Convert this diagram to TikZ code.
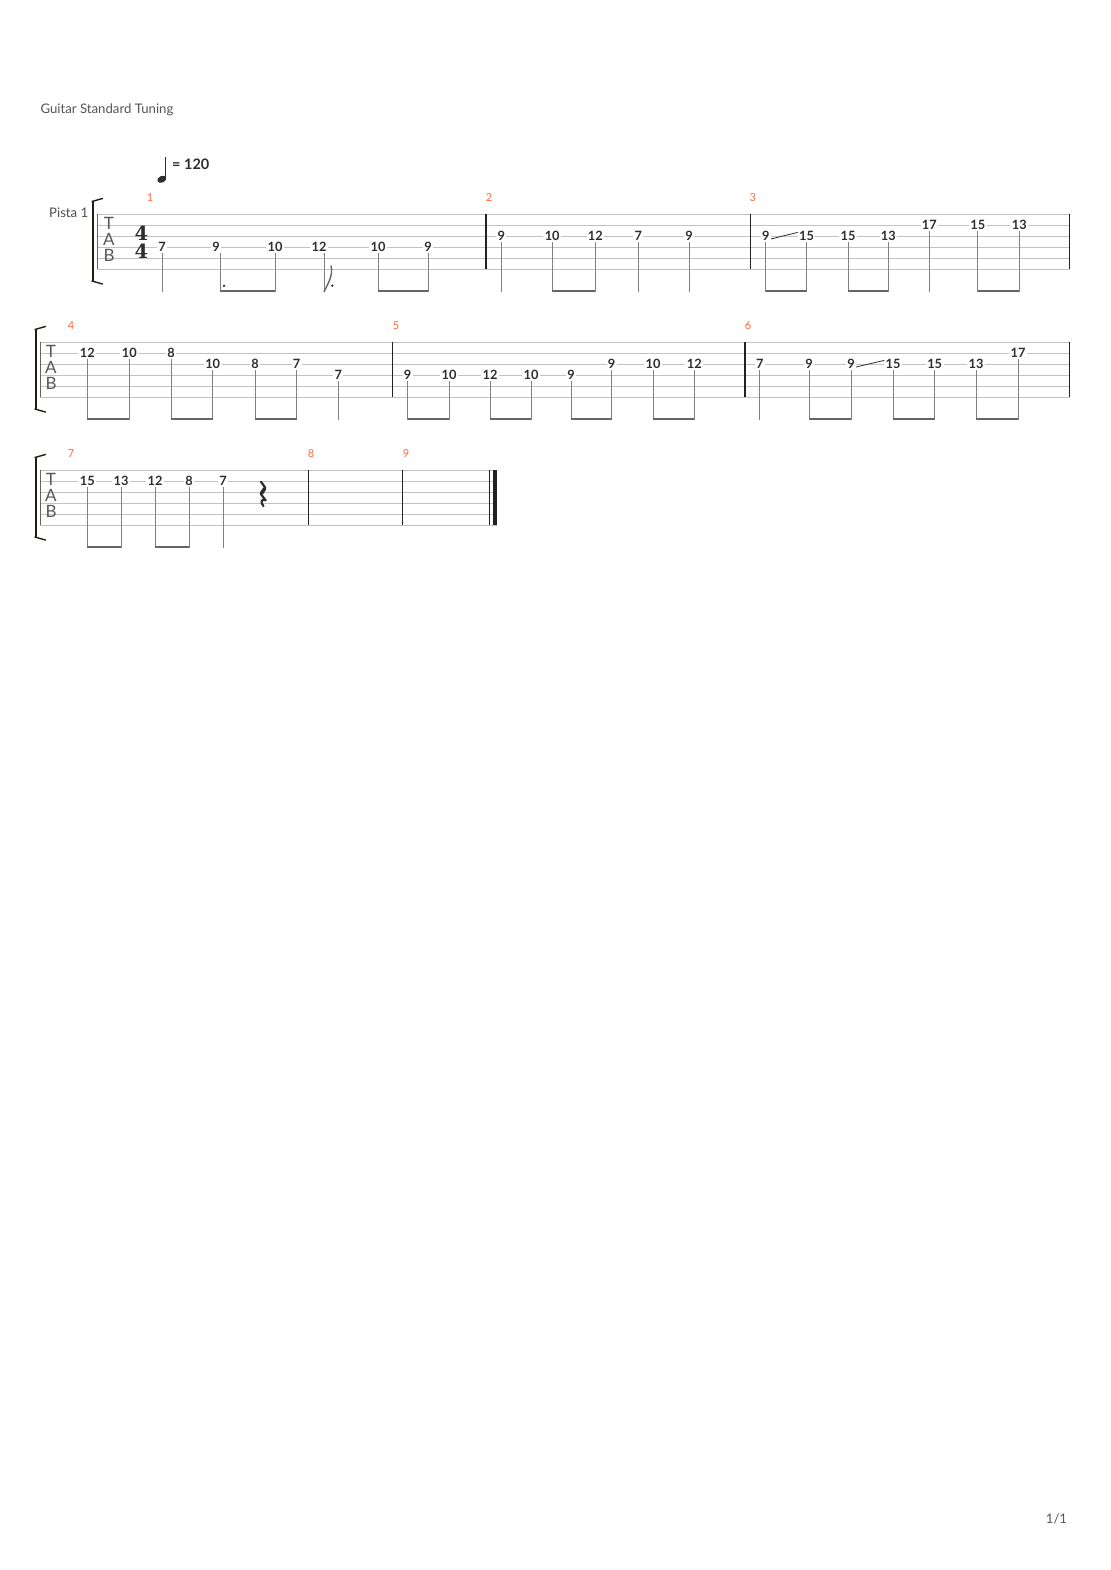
\documentclass[tikz,border=0pt]{standalone}
\usepackage{fontspec}
\newfontfamily\lato{Lato}
\newfontfamily\tsfont{DejaVu Serif}
\definecolor{staffgray}{HTML}{C2C2C2}
\definecolor{txtgray}{HTML}{2E2E2E}
\definecolor{stemgray}{HTML}{808080}
\definecolor{beamgray}{HTML}{666666}
\definecolor{mnumorange}{HTML}{FF6A3D}
\definecolor{titlegray}{HTML}{555555}
\definecolor{bargray}{HTML}{222222}
\definecolor{brackcol}{HTML}{1E1E14}
\newcommand\fretfont{\lato\bfseries\fontsize{12.8}{13}\selectfont}
\tikzset{
  fret/.style={font=\fretfont, text=txtgray, fill=white, inner xsep=1.4pt, inner ysep=0pt, outer sep=0pt},
  stemline/.style={draw=stemgray, line width=1pt, shorten <=1.5pt},
  beamline/.style={draw=beamgray, line width=2.6pt},
  staffline/.style={draw=staffgray, line width=0.9pt},
  barl/.style={draw=bargray, line width=1.2pt},
  slideline/.style={draw=txtgray, line width=0.8pt},
  mnum/.style={font=\lato\fontsize{11}{12}\selectfont, text=mnumorange, inner sep=0pt},
  tabl/.style={font=\lato\fontsize{17}{17}\selectfont, text=txtgray!80, inner sep=0pt},
  tsig/.style={font=\tsfont\bfseries\fontsize{19.5}{19.5}\selectfont, text=txtgray, inner sep=0pt},
  plain/.style={font=\lato\fontsize{13.2}{14}\selectfont, text=titlegray, inner sep=0pt},
}
% note: name, x, y, fret, stem bottom
\newcommand\nt[5]{%
  \node[fret] (#1) at (#2,#3) {#4};
  \coordinate (#1s) at (#2,#5);
  \draw[stemline] (#1.south) -- (#1s);}
% note with offset stem: name, text x, stem x, y, fret, stem bottom
\newcommand\ntx[6]{%
  \node[fret] (#1) at (#2,#4) {#5};
  \coordinate (#1s) at (#3,#6);
  \draw[stemline] (#1s |- #1.south) -- (#1s);}
\newcommand\bm[2]{\draw[beamline] ([yshift=1.2pt]#1s) -- ([yshift=1.2pt]#2s);}
% staff: top y, left x, right x
\newcommand\staff[3]{\foreach \k in {0,...,5}{\draw[staffline] (#2,#1+11*\k) -- (#3,#1+11*\k);}}
% bracket: x, top y, bottom y
\newcommand\brk[3]{%
  \draw[brackcol, line width=2.6pt] (#1,#2) -- (#1,#3);
  \draw[brackcol, line width=1.4pt] (#1-1.2,#2+0.6) .. controls (#1+3,#2-0.6) .. (#1+10,#2-2.6);
  \draw[brackcol, line width=1.4pt] (#1-1.2,#3-0.6) .. controls (#1+3,#3+0.6) .. (#1+10,#3+2.6);}
% tab clef: x, staff top
\newcommand\tabclef[3]{%
  \node[tabl] (#3T) at (#1,#2+9.3) {T};
  \node[tabl] (#3A) at (#1,#2+25.5) {A};
  \node[tabl] (#3B) at (#1,#2+41.5) {B};}
\begin{document}
\begin{tikzpicture}[x=1pt,y=-1pt]
\useasboundingbox (0,0) rectangle (1110,1570);
\fill[white] (0,0) rectangle (1110,1570);

% header
\node[plain, anchor=west] (title) at (40.3,110.3) {Guitar Standard Tuning};
\fill[txtgray, rotate around={25:(161.8,179.3)}] (161.8,179.3) ellipse [x radius=4.7, y radius=3.3];
\draw[txtgray, line width=1pt] (165.9,178.3) -- (165.9,157);
\node[font=\lato\bfseries\fontsize{14.5}{15}\selectfont, text=txtgray, anchor=west, inner sep=0pt] (tempo) at (172,164.5) {= 120};
\node[plain, anchor=east, text=txtgray!85] (pista) at (88.5,213) {Pista 1};
\node[plain, text=titlegray] (pagenum) at (1056.5,1519) {1/1};

% ===== system 1 =====
\staff{214}{97}{1070}
\brk{92.8}{201}{281.5}
\draw[draw=bargray!70, line width=0.9pt] (97.5,214) -- (97.5,269);
\tabclef{109}{214}{t1}
\node[tsig] (ts1) at (141.5,233.2) {4};
\node[tsig] (ts2) at (141.5,251.3) {4};
\draw[barl] (486,214) -- (486,269);
\draw[barl] (750.3,214) -- (750.3,269);
\draw[barl] (1069.5,214) -- (1069.5,269);
\node[mnum] (m1) at (150,198) {1};
\node[mnum] (m2) at (489,198) {2};
\node[mnum] (m3) at (752.7,198) {3};

\nt{a1}{162}{247}{7}{292}
\ntx{a2}{216}{220}{247}{9}{292}
\nt{a3}{275}{247}{10}{292}
\ntx{a4}{319}{324}{247}{12}{292}
\nt{a5}{378}{247}{10}{292}
\nt{a6}{428}{247}{9}{292}
\bm{a2}{a3}\bm{a5}{a6}
\fill[txtgray] (224,285.8) circle (1.3);
\fill[txtgray] (332.3,285.7) circle (1.3);
\draw[stemgray!80!black, line width=1.4pt] (a4s) .. controls (327.5,284) and (333.5,276) .. (331,265.5);

\nt{b1}{501.3}{236}{9}{292}
\nt{b2}{552.2}{236}{10}{292}
\nt{b3}{595.4}{236}{12}{292}
\nt{b4}{638.3}{236}{7}{292}
\nt{b5}{689.1}{236}{9}{292}
\bm{b2}{b3}

\nt{c1}{765.7}{236}{9}{292}
\nt{c2}{806.5}{236}{15}{292}
\nt{c3}{848}{236}{15}{292}
\nt{c4}{888.4}{236}{13}{292}
\nt{c5}{929.4}{225}{17}{292}
\nt{c6}{977.8}{225}{15}{292}
\nt{c7}{1019.3}{225}{13}{292}
\bm{c1}{c2}\bm{c3}{c4}\bm{c6}{c7}
\draw[slideline] ([yshift=-3pt]c1.east) -- ([yshift=3.6pt]c2.west);

% ===== system 2 =====
\staff{342}{40}{1070}
\brk{35.8}{329}{409.5}
\draw[draw=bargray!70, line width=0.9pt] (40.5,342) -- (40.5,397);
\tabclef{51}{342}{t2}
\draw[barl] (392.3,342) -- (392.3,397);
\draw[barl] (745,342) -- (745,397);
\draw[barl] (1069.5,342) -- (1069.5,397);
\node[mnum] (m4) at (71,326) {4};
\node[mnum] (m5) at (396,326) {5};
\node[mnum] (m6) at (748,326) {6};

\nt{d1}{87.3}{353}{12}{420}
\nt{d2}{129.3}{353}{10}{420}
\nt{d3}{171}{353}{8}{420}
\nt{d4}{212.7}{364}{10}{420}
\nt{d5}{255}{364}{8}{420}
\nt{d6}{296.7}{364}{7}{420}
\nt{d7}{338.3}{375}{7}{420}
\bm{d1}{d2}\bm{d3}{d4}\bm{d5}{d6}

\nt{e1}{407.7}{375}{9}{420}
\nt{e2}{449}{375}{10}{420}
\nt{e3}{490}{375}{12}{420}
\nt{e4}{531}{375}{10}{420}
\nt{e5}{571}{375}{9}{420}
\nt{e6}{611.7}{364}{9}{420}
\nt{e7}{653}{364}{10}{420}
\nt{e8}{694.3}{364}{12}{420}
\bm{e1}{e2}\bm{e3}{e4}\bm{e5}{e6}\bm{e7}{e8}

\nt{f1}{759.8}{364}{7}{420}
\nt{f2}{809}{364}{9}{420}
\nt{f3}{851}{364}{9}{420}
\nt{f4}{893}{364}{15}{420}
\nt{f5}{934.7}{364}{15}{420}
\nt{f6}{976}{364}{13}{420}
\nt{f7}{1018}{353}{17}{420}
\bm{f2}{f3}\bm{f4}{f5}\bm{f6}{f7}
\draw[slideline] ([yshift=-3pt]f3.east) -- ([yshift=3.6pt]f4.west);

% ===== system 3 =====
\staff{470}{40}{497}
\brk{35.8}{457}{537.5}
\draw[draw=bargray!70, line width=0.9pt] (40.5,470) -- (40.5,525);
\tabclef{51}{470}{t3}
\draw[barl] (308.3,470) -- (308.3,525);
\draw[barl] (402.3,470) -- (402.3,525);
\draw[barl, line width=1pt] (489.3,470) -- (489.3,525);
\draw[bargray, line width=4pt] (494.7,470) -- (494.7,525);
\node[mnum] (m7) at (71,454) {7};
\node[mnum] (m8) at (311,454) {8};
\node[mnum] (m9) at (406,454) {9};

\nt{g1}{87.3}{481}{15}{548}
\nt{g2}{121}{481}{13}{548}
\nt{g3}{155}{481}{12}{548}
\nt{g4}{189}{481}{8}{548}
\nt{g5}{223}{481}{7}{548}
\bm{g1}{g2}\bm{g3}{g4}

% quarter rest
\draw[txtgray, line width=2.2pt, line join=round, line cap=round]
  (261,481.8) -- (265.3,487.8) -- (260.8,494) -- (265.6,500.2)
  .. controls (262,498.6) and (259.6,501.6) .. (263.4,506);
\draw[txtgray, line width=3.6pt, line cap=round] (264.6,488.6) -- (261.4,493.4);
\end{tikzpicture}
\end{document}
